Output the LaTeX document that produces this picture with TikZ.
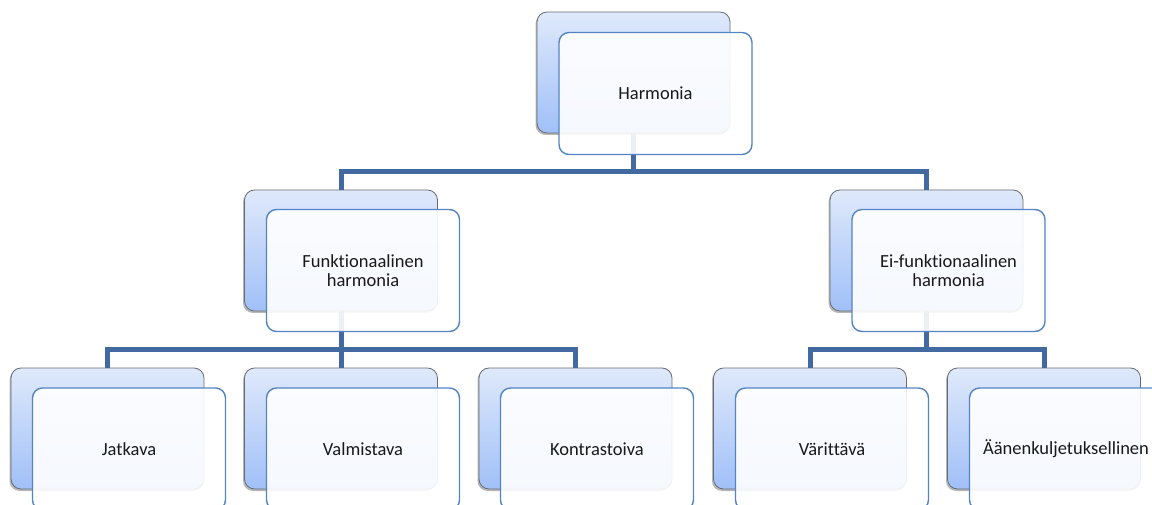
\documentclass[tikz,border=0pt]{standalone}
\usepackage{fontspec}
\setmainfont{Carlito}[Ligatures=NoCommon]
\usetikzlibrary{shadows}
\definecolor{connc}{RGB}{66,106,160}
\definecolor{frontline}{RGB}{84,132,196}
\definecolor{backline}{RGB}{105,108,115}
\definecolor{gtop}{RGB}{223,233,251}
\definecolor{gbot}{RGB}{160,192,248}
\begin{document}
\begin{tikzpicture}[x=1pt,y=-1pt,
  backbox/.style={draw=backline, line width=0.8pt, rounded corners=10pt,
    top color=gtop, bottom color=gbot, minimum width=193pt, minimum height=121pt,
    inner sep=0pt,
    drop shadow={shadow xshift=-1.5pt, shadow yshift=-2pt, opacity=0.4, fill=black!70}},
  frontbox/.style={draw=frontline, line width=1.4pt, rounded corners=10pt,
    fill=white, fill opacity=0.9, text opacity=1, minimum width=193pt,
    minimum height=122pt, inner sep=2pt, align=center, text=black!90,
    font=\fontsize{18.5}{19.5}\selectfont},
  conn/.style={draw=connc, line width=5pt}
]
\clip (0,0) rectangle (1152,505);
\useasboundingbox (0,0) rectangle (1152,505);

% back boxes
\node[backbox] (hB) at (633.5,72.5) {};
\node[backbox] (fB) at (341,250.5) {};
\node[backbox] (eB) at (926.5,250.5) {};
\node[backbox] (jB) at (107.5,428.5) {};
\node[backbox] (vB) at (341,428.5) {};
\node[backbox] (kB) at (575.5,428.5) {};
\node[backbox] (wB) at (810,428.5) {};
\node[backbox] (aB) at (1044,428.5) {};

% connectors
\draw[conn] (hB.south) |- ([yshift=18pt]fB.north) -| (fB.north);
\draw[conn] (hB.south) |- ([yshift=18pt]eB.north) -| (eB.north);
\draw[conn] (fB.south) |- ([yshift=18pt]jB.north) -| (jB.north);
\draw[conn] (fB.south) -- (vB.north);
\draw[conn] (fB.south) |- ([yshift=18pt]kB.north) -| (kB.north);
\draw[conn] (eB.south) |- ([yshift=18pt]wB.north) -| (wB.north);
\draw[conn] (eB.south) |- ([yshift=18pt]aB.north) -| (aB.north);

% front boxes
\node[frontbox] (hF) at (655.5,93.5) {Harmonia};
\node[frontbox] (fF) at (363,270.5) {Funktionaalinen\\harmonia};
\node[frontbox] (eF) at (948.5,270.5) {Ei-funktionaalinen\\harmonia};
\node[frontbox] (jF) at (129,449) {Jatkava};
\node[frontbox] (vF) at (363,449) {Valmistava};
\node[frontbox] (kF) at (597,449) {Kontrastoiva};
\node[frontbox] (wF) at (832,449) {Värittävä};
\node[frontbox] (aF) at (1066,449) {Äänenkuljetuksellinen};
\end{tikzpicture}
\end{document}
